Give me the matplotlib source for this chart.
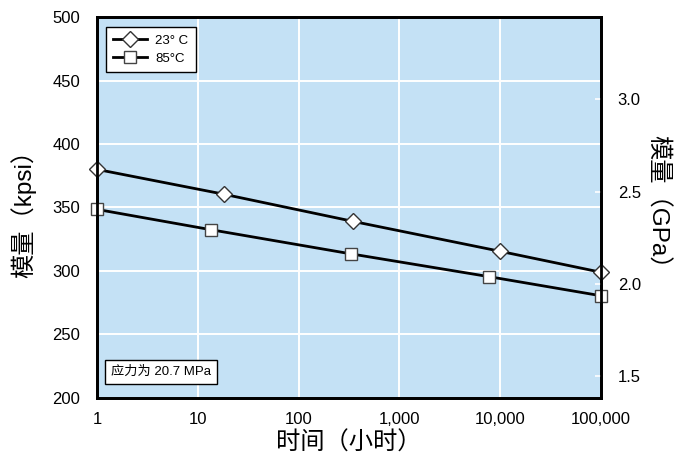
import matplotlib
matplotlib.use("Agg")
import matplotlib.pyplot as plt
import numpy as np
from matplotlib.ticker import FixedLocator, FixedFormatter, NullLocator

plt.rcParams['font.family'] = ['Liberation Sans', 'Noto Sans CJK SC', 'DejaVu Sans']

# Data
hours_23 = [1, 18, 350, 10000, 100000]
kpsi_23 = [380, 360.5, 339, 315.5, 299]
hours_85 = [1, 13.5, 330, 7800, 100000]
kpsi_85 = [348.5, 332.5, 313.5, 295.5, 280.5]

x_ticks = [1, 10, 100, 1000, 10000, 100000]
x_labels = ["1", "10", "100", "1,000", "10,000", "100,000"]
y_ticks = [200, 250, 300, 350, 400, 450, 500]
gpa_ticks = [1.5, 2.0, 2.5, 3.0]
KPSI_PER_GPA = 145.038

bg = "#C4E1F5"

fig = plt.figure(figsize=(6.79, 4.61), dpi=100)
ax = fig.add_axes([0.1429, 0.1367, 0.7422, 0.8264])
ax.set_facecolor(bg)
ax.set_xscale('log')
ax.set_xlim(1, 100000)
ax.set_ylim(200, 500)

ax.xaxis.set_major_locator(FixedLocator(x_ticks))
ax.xaxis.set_major_formatter(FixedFormatter(x_labels))
ax.xaxis.set_minor_locator(NullLocator())
ax.yaxis.set_major_locator(FixedLocator(y_ticks))
ax.grid(True, color='white', linewidth=1.4, zorder=0)
ax.set_axisbelow(True)
ax.tick_params(axis='both', length=0, labelsize=12, colors='black')
ax.tick_params(axis='x', pad=10)
ax.tick_params(axis='y', pad=12)

for s in ax.spines.values():
    s.set_linewidth(2)
    s.set_color('black')

ax.plot(hours_23, kpsi_23, color='black', lw=2, marker='D', markersize=8,
        markerfacecolor='white', markeredgecolor='#333333', markeredgewidth=1.0,
        clip_on=False, zorder=3, label='23° C')
ax.plot(hours_85, kpsi_85, color='black', lw=2, marker='s', markersize=9,
        markerfacecolor='white', markeredgecolor='#444444', markeredgewidth=1.0,
        clip_on=False, zorder=3, label='85°C')

ax.set_xlabel("时间（小时）", fontsize=17.5, labelpad=3)
ax.set_ylabel("模量（kpsi）", fontsize=17.5, labelpad=12)

leg = ax.legend(loc='upper left', bbox_to_anchor=(0.004, 0.99), fontsize=9.5,
                frameon=True, fancybox=False, edgecolor='black', facecolor='white',
                framealpha=1, handlelength=2.6, borderpad=0.55, labelspacing=0.45,
                handletextpad=0.6)
leg.get_frame().set_linewidth(1.0)

ax.text(0.028, 0.069, "应力为 20.7 MPa", transform=ax.transAxes, fontsize=9.5,
        ha='left', va='center',
        bbox=dict(boxstyle='square,pad=0.45', facecolor='white', edgecolor='black', linewidth=1.0))

ax2 = ax.twinx()
ax2.set_ylim(200 / KPSI_PER_GPA, 500 / KPSI_PER_GPA)
ax2.yaxis.set_major_locator(FixedLocator(gpa_ticks))
ax2.set_yticklabels([f"{v:.1f}" for v in gpa_ticks])
ax2.tick_params(axis='y', direction='in', length=4, width=1.2, color='white',
                labelsize=12, pad=12)
for s in ax2.spines.values():
    s.set_linewidth(2)
    s.set_color('black')
ax2.set_ylabel("模量（GPa）", fontsize=17.5, rotation=-90, labelpad=20)

fig.savefig("out.png", dpi=100)
